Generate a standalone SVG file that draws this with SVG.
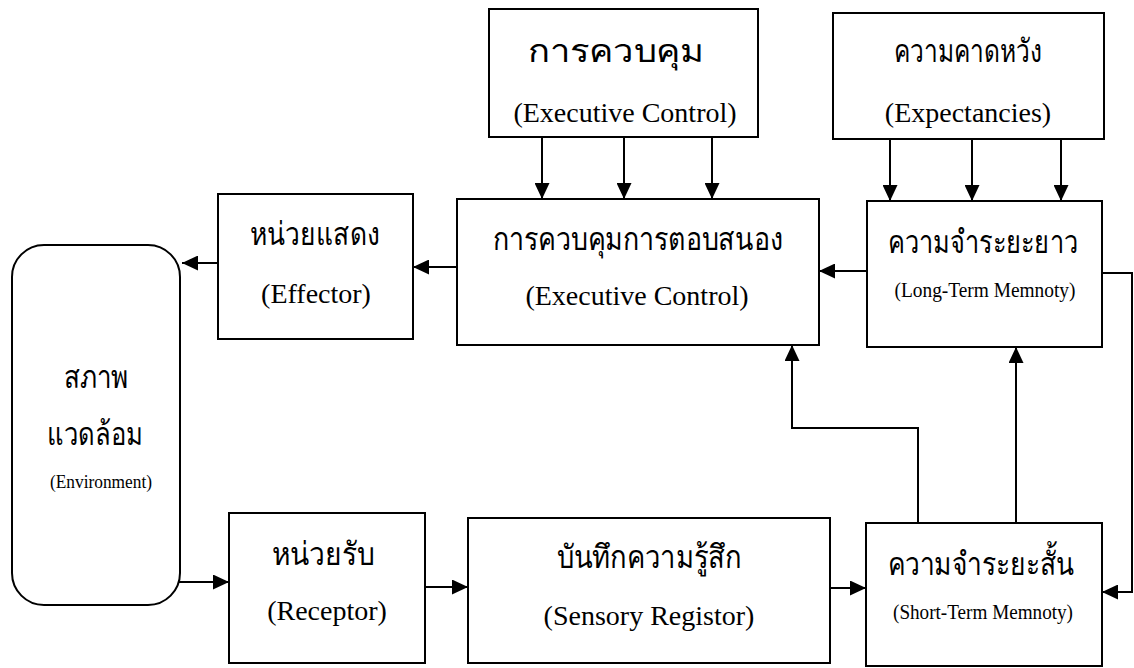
<svg xmlns="http://www.w3.org/2000/svg" width="1134" height="668" viewBox="0 0 1134 668">
<style>
.box{fill:#fff;stroke:#000;stroke-width:2}
.th{font-family:"Noto Sans","DejaVu Sans",sans-serif;font-size:32px;fill:#000;text-anchor:middle}
.en{font-family:"Liberation Serif","Times New Roman",serif;font-size:28px;fill:#000;text-anchor:middle}
.sm{font-family:"Liberation Serif","Times New Roman",serif;font-size:20px;fill:#000;text-anchor:middle}
.env{font-family:"Liberation Serif","Times New Roman",serif;font-size:18px;fill:#000;text-anchor:middle}
.ln{fill:none;stroke:#000;stroke-width:2}
</style>
<defs>
<marker id="ah" markerUnits="userSpaceOnUse" markerWidth="16" markerHeight="15" refX="16" refY="7.5" orient="auto">
<path d="M0,0 L16,7.5 L0,15 z" fill="#000"/>
</marker>
</defs>
<rect width="1134" height="668" fill="#fff"/>
<g id="connectors">
<path class="ln" d="M542,137 L542,199" marker-end="url(#ah)"/>
<path class="ln" d="M624,137 L624,199" marker-end="url(#ah)"/>
<path class="ln" d="M712,137 L712,199" marker-end="url(#ah)"/>
<path class="ln" d="M890,139 L890,201" marker-end="url(#ah)"/>
<path class="ln" d="M972,139 L972,201" marker-end="url(#ah)"/>
<path class="ln" d="M1061,139 L1061,201" marker-end="url(#ah)"/>
<path class="ln" d="M867,271 L819,271" marker-end="url(#ah)"/>
<path class="ln" d="M457,267 L413,267" marker-end="url(#ah)"/>
<path class="ln" d="M218,263 L182,263" marker-end="url(#ah)"/>
<path class="ln" d="M179,582 L229,582" marker-end="url(#ah)"/>
<path class="ln" d="M425,587 L468,587" marker-end="url(#ah)"/>
<path class="ln" d="M830,588 L866,588" marker-end="url(#ah)"/>
<path class="ln" d="M918,523 L918,428 L792,428 L792,345" marker-end="url(#ah)"/>
<path class="ln" d="M1016,523 L1016,347" marker-end="url(#ah)"/>
<path class="ln" d="M1102,273 L1132,273 L1132,592 L1102,592" marker-end="url(#ah)"/>
</g>
<g id="top-control">
<rect class="box" x="489" y="9" width="269" height="128"/>
<text class="th" x="616" y="62" textLength="176" lengthAdjust="spacingAndGlyphs">การควบคุม</text>
<text class="en" x="625" y="122">(Executive Control)</text>
</g>
<g id="expectancies">
<rect class="box" x="833" y="13" width="271" height="126"/>
<text class="th" x="968" y="62" textLength="148" lengthAdjust="spacingAndGlyphs">ความคาดหวัง</text>
<text class="en" x="968" y="122">(Expectancies)</text>
</g>
<g id="executive">
<rect class="box" x="457" y="199" width="362" height="146"/>
<text class="th" x="638" y="250" textLength="290" lengthAdjust="spacingAndGlyphs">การควบคุมการตอบสนอง</text>
<text class="en" x="637" y="305">(Executive Control)</text>
</g>
<g id="long-term">
<rect class="box" x="867" y="201" width="235" height="146"/>
<text class="th" x="983" y="253" textLength="190" lengthAdjust="spacingAndGlyphs">ความจำระยะยาว</text>
<text class="sm" x="985" y="297" textLength="181" lengthAdjust="spacingAndGlyphs">(Long-Term Memnoty)</text>
</g>
<g id="effector">
<rect class="box" x="218" y="194" width="195" height="145"/>
<text class="th" x="315" y="245" textLength="130" lengthAdjust="spacingAndGlyphs">หน่วยแสดง</text>
<text class="en" x="316" y="303">(Effector)</text>
</g>
<g id="environment">
<rect class="box" x="12" y="245" width="168" height="360" rx="32" ry="32"/>
<text class="th" x="96" y="388" textLength="65" lengthAdjust="spacingAndGlyphs">สภาพ</text>
<text class="th" x="95" y="445" textLength="96" lengthAdjust="spacingAndGlyphs">แวดล้อม</text>
<text class="env" x="101" y="488" textLength="102" lengthAdjust="spacingAndGlyphs">(Environment)</text>
</g>
<g id="receptor">
<rect class="box" x="229" y="513" width="196" height="150"/>
<text class="th" x="323" y="565" textLength="103" lengthAdjust="spacingAndGlyphs">หน่วยรับ</text>
<text class="en" x="327" y="620">(Receptor)</text>
</g>
<g id="sensory">
<rect class="box" x="468" y="518" width="362" height="145"/>
<text class="th" x="649" y="568" textLength="185" lengthAdjust="spacingAndGlyphs">บันทึกความรู้สึก</text>
<text class="en" x="649" y="625">(Sensory Registor)</text>
</g>
<g id="short-term">
<rect class="box" x="866" y="523" width="236" height="143"/>
<text class="th" x="981" y="575" textLength="187" lengthAdjust="spacingAndGlyphs">ความจำระยะสั้น</text>
<text class="sm" x="983" y="619" textLength="180" lengthAdjust="spacingAndGlyphs">(Short-Term Memnoty)</text>
</g>
</svg>
